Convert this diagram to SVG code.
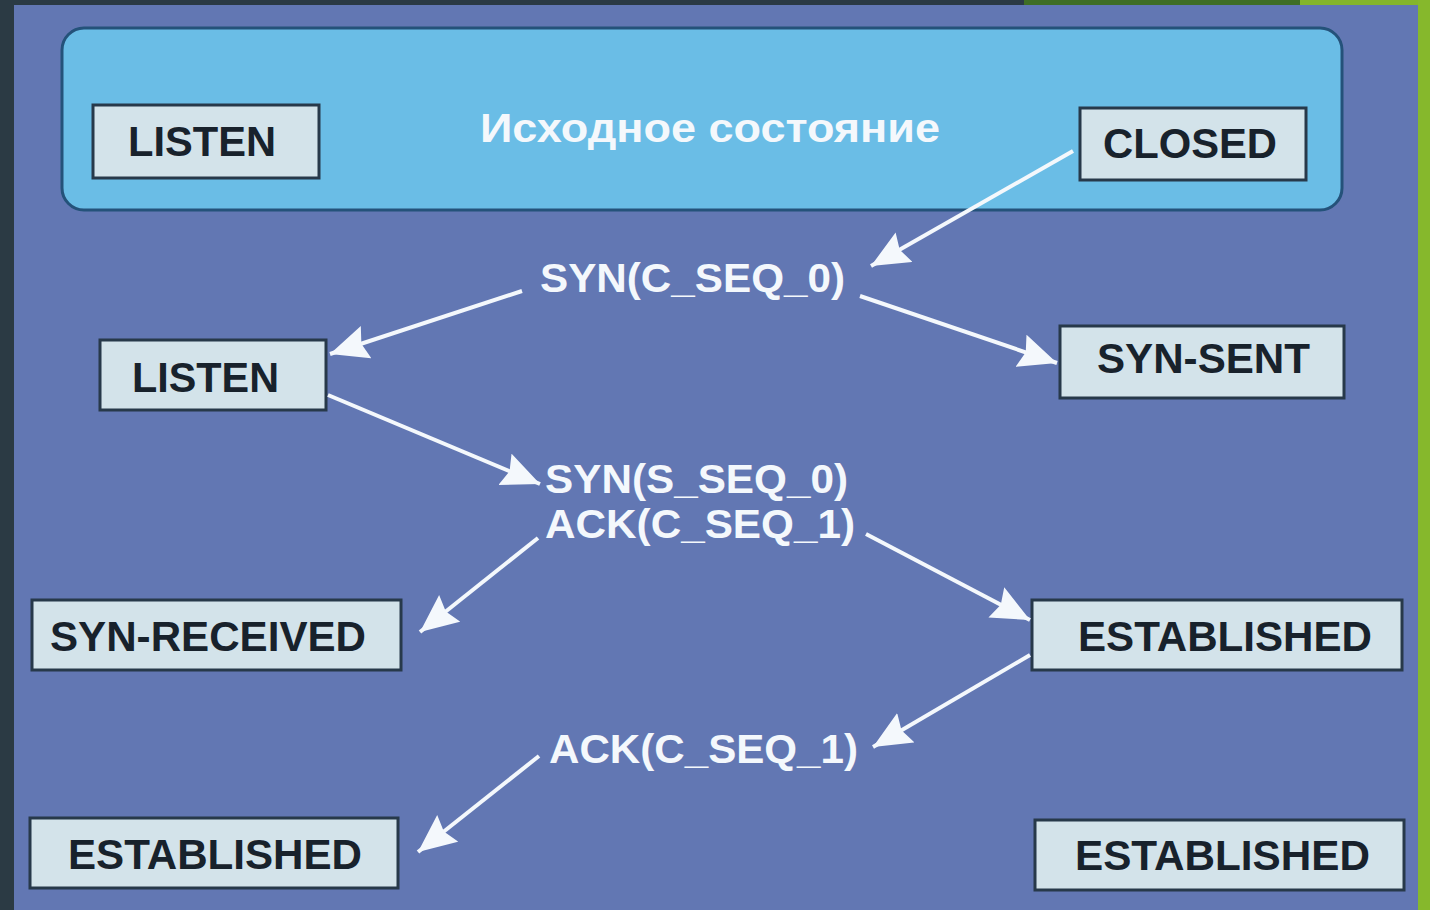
<svg xmlns="http://www.w3.org/2000/svg" width="1430" height="910" viewBox="0 0 1430 910">
  <style>
    .node rect { fill: #d3e3ea; stroke: #27394a; stroke-width: 3; }
    .node text { font-family: "Liberation Sans", Arial, sans-serif; font-weight: bold; font-size: 42px; fill: #18222c; }
    .lbl { font-family: "Liberation Sans", Arial, sans-serif; font-weight: bold; font-size: 40px; fill: #f4f8fc; }
    .conn line { stroke: #f4f8fc; stroke-width: 4; marker-end: url(#ah); }
  </style>
  <defs>
    <marker id="ah" markerUnits="userSpaceOnUse" markerWidth="42" markerHeight="36" refX="38" refY="17" orient="auto">
      <path d="M0,0 L38,17 L0,34 L5,17 z" fill="#f4f8fc"/>
    </marker>
  </defs>
  <rect x="0" y="0" width="1430" height="910" fill="#2b3a44"/>
  <rect x="1024" y="0" width="280" height="6" fill="#3f6e24"/>
  <rect x="1300" y="0" width="130" height="6" fill="#84b52c"/>
  <rect x="1418" y="0" width="12" height="910" fill="#86b82c"/>
  <rect x="14" y="5" width="1404" height="905" fill="#6277b3"/>

  <g id="initial-state">
    <rect x="62" y="28" width="1280" height="182" rx="22" fill="#6abde6" stroke="#24527a" stroke-width="3"/>
    <text class="lbl" x="480" y="142" textLength="460" lengthAdjust="spacingAndGlyphs">Исходное состояние</text>
  </g>

  <g id="listen-top" class="node">
    <rect x="93" y="105" width="226" height="73"/>
    <text x="128" y="156" textLength="148" lengthAdjust="spacingAndGlyphs">LISTEN</text>
  </g>
  <g id="closed" class="node">
    <rect x="1080" y="108" width="226" height="72"/>
    <text x="1103" y="158" textLength="174" lengthAdjust="spacingAndGlyphs">CLOSED</text>
  </g>
  <g id="listen" class="node">
    <rect x="100" y="340" width="226" height="70"/>
    <text x="132" y="392" textLength="147" lengthAdjust="spacingAndGlyphs">LISTEN</text>
  </g>
  <g id="syn-sent" class="node">
    <rect x="1060" y="326" width="284" height="72"/>
    <text x="1097" y="373" textLength="213" lengthAdjust="spacingAndGlyphs">SYN-SENT</text>
  </g>
  <g id="syn-received" class="node">
    <rect x="32" y="600" width="369" height="70"/>
    <text x="50" y="651" textLength="316" lengthAdjust="spacingAndGlyphs">SYN-RECEIVED</text>
  </g>
  <g id="established-right" class="node">
    <rect x="1032" y="600" width="370" height="70"/>
    <text x="1078" y="651" textLength="294" lengthAdjust="spacingAndGlyphs">ESTABLISHED</text>
  </g>
  <g id="established-bottom-left" class="node">
    <rect x="30" y="818" width="368" height="70"/>
    <text x="68" y="869" textLength="294" lengthAdjust="spacingAndGlyphs">ESTABLISHED</text>
  </g>
  <g id="established-bottom-right" class="node">
    <rect x="1035" y="820" width="369" height="70"/>
    <text x="1075" y="870" textLength="295" lengthAdjust="spacingAndGlyphs">ESTABLISHED</text>
  </g>

  <g id="labels">
    <text class="lbl" x="540" y="292" textLength="305" lengthAdjust="spacingAndGlyphs">SYN(C_SEQ_0)</text>
    <text class="lbl" x="545" y="493" textLength="303" lengthAdjust="spacingAndGlyphs">SYN(S_SEQ_0)</text>
    <text class="lbl" x="545" y="538" textLength="310" lengthAdjust="spacingAndGlyphs">ACK(C_SEQ_1)</text>
    <text class="lbl" x="549" y="763" textLength="309" lengthAdjust="spacingAndGlyphs">ACK(C_SEQ_1)</text>
  </g>

  <g id="connectors" class="conn">
    <line x1="1073" y1="151" x2="871" y2="266"/>
    <line x1="522" y1="291" x2="330" y2="354"/>
    <line x1="860" y1="296" x2="1057" y2="363"/>
    <line x1="328" y1="395" x2="540" y2="484"/>
    <line x1="538" y1="538" x2="420" y2="632"/>
    <line x1="866" y1="534" x2="1030" y2="620"/>
    <line x1="1030" y1="655" x2="873" y2="747"/>
    <line x1="539" y1="756" x2="418" y2="852"/>
  </g>
</svg>
